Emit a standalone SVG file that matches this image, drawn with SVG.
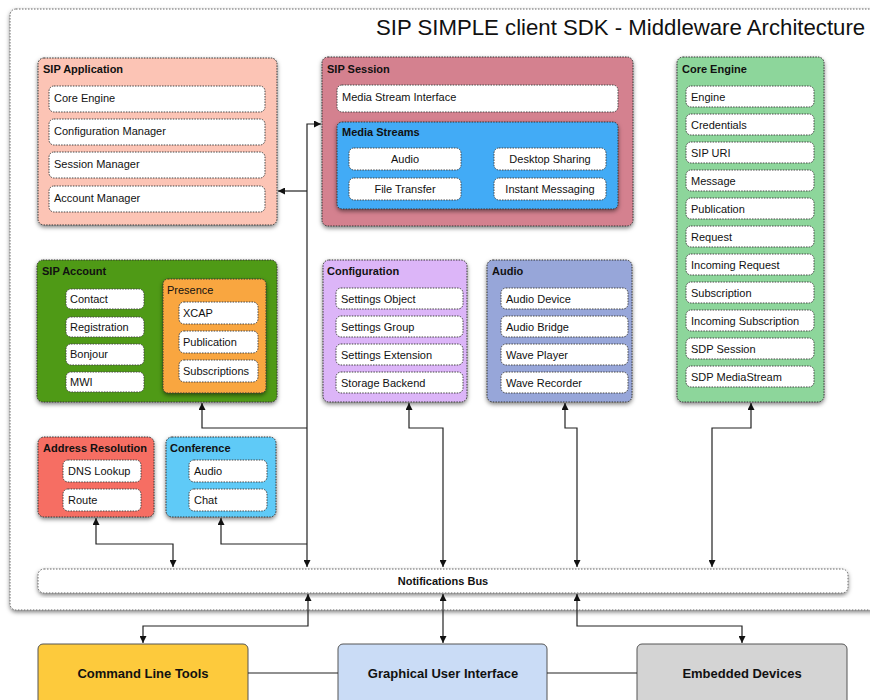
<svg xmlns="http://www.w3.org/2000/svg" width="870" height="700" viewBox="0 0 870 700">
  <defs>
    <filter id="shadow" x="-10%" y="-10%" width="120%" height="130%">
      <feDropShadow dx="0" dy="2" stdDeviation="2" flood-color="#000" flood-opacity="0.5"/>
    </filter>
    <marker id="arrow" viewBox="0 0 10 10" refX="10" refY="5" markerWidth="8" markerHeight="7" markerUnits="userSpaceOnUse" orient="auto-start-reverse">
      <path d="M0,0 L10,5 L0,10 z" fill="#111"/>
    </marker>
  </defs>
  <style>
    text { font-family: "Liberation Sans", Arial, sans-serif; fill: #111; }
    .group { stroke: #333; stroke-width: 1; stroke-dasharray: 1.5 1.2; filter: url(#shadow); }
    .item { fill: #fff; stroke: #444; stroke-width: 1; stroke-dasharray: 1.5 1.2; }
    .title { font-size: 11px; font-weight: bold; }
    .label { font-size: 11px; }
    .mid { text-anchor: middle; }
    .frame { fill: #fff; stroke: #666; stroke-width: 1; stroke-dasharray: 1.5 1.5; filter: url(#shadow); }
    .client { stroke: #555; stroke-width: 1; }
    .client-label { font-size: 13px; font-weight: bold; text-anchor: middle; }
    .wire { fill: none; stroke: #222; stroke-width: 1.2; }
  </style>

  <rect width="870" height="700" fill="#fff"/>

  <!-- middleware frame -->
  <g id="middleware">
    <rect class="frame" x="10" y="9" width="880" height="601" rx="6"/>
    <text x="376" y="35" style="font-size:22.2px">SIP SIMPLE client SDK - Middleware Architecture</text>
  </g>

  <!-- SIP Application -->
  <g id="sip-application">
    <rect class="group" x="38" y="58" width="239" height="167" rx="6" fill="#fcc4b5"/>
    <text class="title" x="43" y="73">SIP Application</text>
    <rect class="item" x="49" y="86" width="216" height="26" rx="5"/>
    <text class="label" x="54" y="102">Core Engine</text>
    <rect class="item" x="49" y="119" width="216" height="26" rx="5"/>
    <text class="label" x="54" y="135">Configuration Manager</text>
    <rect class="item" x="49" y="152" width="216" height="26" rx="5"/>
    <text class="label" x="54" y="168">Session Manager</text>
    <rect class="item" x="49" y="186" width="216" height="26" rx="5"/>
    <text class="label" x="54" y="202">Account Manager</text>
  </g>

  <!-- SIP Session -->
  <g id="sip-session">
    <rect class="group" x="322" y="57" width="311" height="169" rx="6" fill="#d4818f"/>
    <text class="title" x="327" y="73">SIP Session</text>
    <rect class="item" x="337" y="85" width="281" height="27" rx="5"/>
    <text class="label" x="342" y="101">Media Stream Interface</text>
    <g id="media-streams">
      <rect class="group" x="337" y="122" width="281" height="87" rx="5" fill="#43abf6"/>
      <text class="title" x="342" y="136">Media Streams</text>
      <rect class="item" x="349" y="148" width="112" height="22" rx="5"/>
      <text class="label mid" x="405" y="163">Audio</text>
      <rect class="item" x="349" y="178" width="112" height="22" rx="5"/>
      <text class="label mid" x="405" y="193">File Transfer</text>
      <rect class="item" x="494" y="148" width="112" height="22" rx="5"/>
      <text class="label mid" x="550" y="163">Desktop Sharing</text>
      <rect class="item" x="494" y="178" width="112" height="22" rx="5"/>
      <text class="label mid" x="550" y="193">Instant Messaging</text>
    </g>
  </g>

  <!-- Core Engine -->
  <g id="core-engine">
    <rect class="group" x="677" y="57" width="147" height="345" rx="6" fill="#8dd69b"/>
    <text class="title" x="682" y="73">Core Engine</text>
    <rect class="item" x="686" y="86" width="128" height="21" rx="5"/>
    <text class="label" x="691" y="101">Engine</text>
    <rect class="item" x="686" y="114" width="128" height="21" rx="5"/>
    <text class="label" x="691" y="129">Credentials</text>
    <rect class="item" x="686" y="142" width="128" height="21" rx="5"/>
    <text class="label" x="691" y="157">SIP URI</text>
    <rect class="item" x="686" y="170" width="128" height="21" rx="5"/>
    <text class="label" x="691" y="185">Message</text>
    <rect class="item" x="686" y="198" width="128" height="21" rx="5"/>
    <text class="label" x="691" y="213">Publication</text>
    <rect class="item" x="686" y="226" width="128" height="21" rx="5"/>
    <text class="label" x="691" y="241">Request</text>
    <rect class="item" x="686" y="254" width="128" height="21" rx="5"/>
    <text class="label" x="691" y="269">Incoming Request</text>
    <rect class="item" x="686" y="282" width="128" height="21" rx="5"/>
    <text class="label" x="691" y="297">Subscription</text>
    <rect class="item" x="686" y="310" width="128" height="21" rx="5"/>
    <text class="label" x="691" y="325">Incoming Subscription</text>
    <rect class="item" x="686" y="338" width="128" height="21" rx="5"/>
    <text class="label" x="691" y="353">SDP Session</text>
    <rect class="item" x="686" y="366" width="128" height="21" rx="5"/>
    <text class="label" x="691" y="381">SDP MediaStream</text>
  </g>

  <!-- SIP Account -->
  <g id="sip-account">
    <rect class="group" x="37" y="260" width="240" height="142" rx="6" fill="#4f9a13"/>
    <text class="title" x="42" y="275">SIP Account</text>
    <rect class="item" x="66" y="289" width="78" height="20" rx="5"/>
    <text class="label" x="70" y="303">Contact</text>
    <rect class="item" x="66" y="317" width="78" height="20" rx="5"/>
    <text class="label" x="70" y="331">Registration</text>
    <rect class="item" x="66" y="344" width="78" height="21" rx="5"/>
    <text class="label" x="70" y="358">Bonjour</text>
    <rect class="item" x="66" y="372" width="78" height="20" rx="5"/>
    <text class="label" x="70" y="386">MWI</text>
    <g id="presence">
      <rect class="group" x="163" y="279" width="103" height="114" rx="5" fill="#f9a640"/>
      <text class="label" x="167" y="294">Presence</text>
      <rect class="item" x="179" y="302" width="79" height="22" rx="5"/>
      <text class="label" x="183" y="317">XCAP</text>
      <rect class="item" x="179" y="331" width="79" height="22" rx="5"/>
      <text class="label" x="183" y="346">Publication</text>
      <rect class="item" x="179" y="360" width="79" height="22" rx="5"/>
      <text class="label" x="183" y="375">Subscriptions</text>
    </g>
  </g>

  <!-- Configuration -->
  <g id="configuration">
    <rect class="group" x="323" y="260" width="144" height="142" rx="6" fill="#dcb5f8"/>
    <text class="title" x="327" y="275">Configuration</text>
    <rect class="item" x="336" y="288" width="127" height="21" rx="5"/>
    <text class="label" x="341" y="303">Settings Object</text>
    <rect class="item" x="336" y="316" width="127" height="21" rx="5"/>
    <text class="label" x="341" y="331">Settings Group</text>
    <rect class="item" x="336" y="344" width="127" height="21" rx="5"/>
    <text class="label" x="341" y="359">Settings Extension</text>
    <rect class="item" x="336" y="372" width="127" height="21" rx="5"/>
    <text class="label" x="341" y="387">Storage Backend</text>
  </g>

  <!-- Audio -->
  <g id="audio">
    <rect class="group" x="487" y="260" width="145" height="142" rx="6" fill="#97a6d9"/>
    <text class="title" x="492" y="275">Audio</text>
    <rect class="item" x="501" y="288" width="127" height="21" rx="5"/>
    <text class="label" x="506" y="303">Audio Device</text>
    <rect class="item" x="501" y="316" width="127" height="21" rx="5"/>
    <text class="label" x="506" y="331">Audio Bridge</text>
    <rect class="item" x="501" y="344" width="127" height="21" rx="5"/>
    <text class="label" x="506" y="359">Wave Player</text>
    <rect class="item" x="501" y="372" width="127" height="21" rx="5"/>
    <text class="label" x="506" y="387">Wave Recorder</text>
  </g>

  <!-- Address Resolution -->
  <g id="address-resolution">
    <rect class="group" x="38" y="437" width="116" height="80" rx="6" fill="#f66e63"/>
    <text class="title" x="43" y="452">Address Resolution</text>
    <rect class="item" x="63" y="460" width="78" height="22" rx="5"/>
    <text class="label" x="68" y="475">DNS Lookup</text>
    <rect class="item" x="63" y="489" width="78" height="22" rx="5"/>
    <text class="label" x="68" y="504">Route</text>
  </g>

  <!-- Conference -->
  <g id="conference">
    <rect class="group" x="166" y="437" width="110" height="80" rx="6" fill="#5ecaf7"/>
    <text class="title" x="170" y="452">Conference</text>
    <rect class="item" x="189" y="460" width="78" height="22" rx="5"/>
    <text class="label" x="194" y="475">Audio</text>
    <rect class="item" x="189" y="489" width="78" height="22" rx="5"/>
    <text class="label" x="194" y="504">Chat</text>
  </g>

  <!-- Notifications Bus -->
  <g id="notifications-bus">
    <rect class="frame" x="38" y="569" width="810" height="24" rx="6" stroke="#555"/>
    <text x="443" y="585" style="font-size:11px;font-weight:bold" text-anchor="middle">Notifications Bus</text>
  </g>

  <!-- client applications -->
  <g id="command-line-tools">
    <rect class="client" x="38" y="644" width="210" height="70" rx="5" fill="#fdca3c"/>
    <text class="client-label" x="143" y="678">Command Line Tools</text>
  </g>
  <g id="graphical-user-interface">
    <rect class="client" x="338" y="644" width="209" height="70" rx="5" fill="#cadcf6"/>
    <text class="client-label" x="443" y="678">Graphical User Interface</text>
  </g>
  <g id="embedded-devices">
    <rect class="client" x="637" y="644" width="210" height="70" rx="5" fill="#d4d4d4"/>
    <text class="client-label" x="742" y="678">Embedded Devices</text>
  </g>

  <!-- connectors -->
  <g id="connectors">
    <path class="wire" d="M321,124 H307 V567" marker-start="url(#arrow)" marker-end="url(#arrow)"/>
    <path class="wire" d="M278,191 H307" marker-start="url(#arrow)"/>
    <path class="wire" d="M202,403 V428 H307" marker-start="url(#arrow)"/>
    <path class="wire" d="M96,518 V544 H173 V567" marker-start="url(#arrow)" marker-end="url(#arrow)"/>
    <path class="wire" d="M221,518 V544 H307" marker-start="url(#arrow)"/>
    <path class="wire" d="M409,403 V428 H443 V567" marker-start="url(#arrow)" marker-end="url(#arrow)"/>
    <path class="wire" d="M565,403 V428 H577 V567" marker-start="url(#arrow)" marker-end="url(#arrow)"/>
    <path class="wire" d="M751,403 V428 H712 V567" marker-start="url(#arrow)" marker-end="url(#arrow)"/>
    <path class="wire" d="M308,594 V626 H143 V643" marker-start="url(#arrow)" marker-end="url(#arrow)"/>
    <path class="wire" d="M443,594 V643" marker-start="url(#arrow)" marker-end="url(#arrow)"/>
    <path class="wire" d="M577,594 V626 H742 V643" marker-start="url(#arrow)" marker-end="url(#arrow)"/>
    <path class="wire" d="M248,673 H338"/>
    <path class="wire" d="M547,673 H637"/>
  </g>
</svg>
